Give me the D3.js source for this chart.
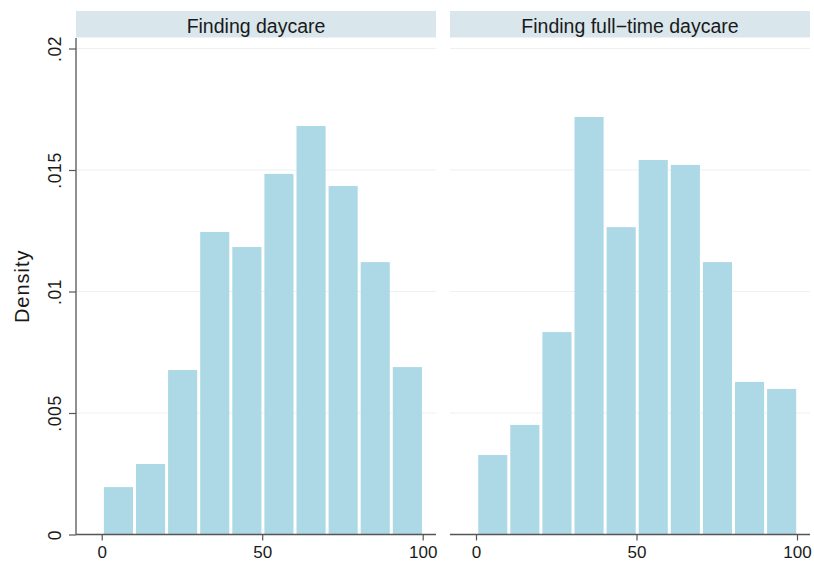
<!DOCTYPE html>
<html>
<head>
<meta charset="utf-8">
<script src="https://cdn.jsdelivr.net/npm/d3@7"></script>
<style>
  body { margin: 0; background: #fff; }
  text { font-family: "Liberation Sans", Arial, sans-serif; fill: #1a1a1a; }
</style>
</head>
<body>
<div id="chart"></div>
<script>
// bins of width 10, from 0 to 100
var binStarts = [0, 10, 20, 30, 40, 50, 60, 70, 80, 90];
var panelTitles = ["Finding daycare", "Finding full\u2212time daycare"];
var densityDaycare = [0.00195, 0.0029, 0.00677, 0.01245, 0.01183, 0.01484, 0.01681, 0.01434, 0.01121, 0.00689];
var densityFullTime = [0.00327, 0.00451, 0.00833, 0.01718, 0.01265, 0.01541, 0.01521, 0.01121, 0.00628, 0.00599];
var yTicks = [0, 0.005, 0.01, 0.015, 0.02];
var yTickLabels = ["0", ".005", ".01", ".015", ".02"];
var xTicks = [0, 50, 100];

var width = 814, height = 566;
var svg = d3.select("#chart").append("svg")
    .attr("width", width)
    .attr("height", height);

var plotTop = 38, plotBottom = 534.5;
var y = d3.scaleLinear().domain([0, 0.02]).range([plotBottom, 48.5]);

var panels = [
    { title: panelTitles[0], values: densityDaycare, left: 76, right: 436, x0: 101.7, x1: 422.7, yaxis: true },
    { title: panelTitles[1], values: densityFullTime, left: 450, right: 810, x0: 476, x1: 797, yaxis: false }
];

panels.forEach(function(p) {
    var x = d3.scaleLinear().domain([0, 100]).range([p.x0, p.x1]);
    var g = svg.append("g");

    // header strip
    g.append("rect")
        .attr("x", p.left).attr("y", 11)
        .attr("width", p.right - p.left).attr("height", 26.5)
        .attr("fill", "#d9e6eb");
    g.append("text")
        .attr("x", (p.left + p.right) / 2).attr("y", 32.5)
        .attr("text-anchor", "middle")
        .style("font-size", "19.5px")
        .text(p.title);

    // grid lines
    g.selectAll("line.grid")
        .data(yTicks.slice(1))
        .enter().append("line")
        .attr("class", "grid")
        .attr("x1", p.left).attr("x2", p.right)
        .attr("y1", function(d){ return y(d); })
        .attr("y2", function(d){ return y(d); })
        .attr("stroke", "#eaf2f4")
        .attr("stroke-width", 1.2);

    // bars
    g.selectAll("rect.bar")
        .data(p.values)
        .enter().append("rect")
        .attr("class", "bar")
        .attr("x", function(d, i){ return x(binStarts[i]) + 2.2; })
        .attr("width", function(d, i){ return x(binStarts[i] + 10) - x(binStarts[i]) - 3; })
        .attr("y", function(d){ return y(d); })
        .attr("height", function(d){ return plotBottom - y(d); })
        .attr("fill", "#add8e6");

    // x axis
    var xAxis = d3.axisBottom(x)
        .tickValues(xTicks)
        .tickSize(6)
        .tickSizeOuter(0);
    var xa = g.append("g")
        .attr("transform", "translate(0," + plotBottom + ")")
        .call(xAxis);
    xa.select(".domain").remove();
    xa.append("line")
        .attr("x1", p.left).attr("x2", p.right)
        .attr("stroke", "#555").attr("stroke-width", 1.3);
    xa.selectAll(".tick line").attr("stroke", "#555").attr("stroke-width", 1.2);
    xa.selectAll(".tick text")
        .attr("y", 11)
        .attr("dy", "0.71em")
        .style("font-size", "17px")
        .style("font-family", "Liberation Sans, Arial, sans-serif")
        .attr("fill", "#1a1a1a");

    if (p.yaxis) {
        var yAxis = d3.axisLeft(y)
            .tickValues(yTicks)
            .tickFormat(function(d, i){ return yTickLabels[i]; })
            .tickSize(7)
            .tickSizeOuter(0);
        var ya = g.append("g")
            .attr("transform", "translate(" + p.left + ",0)")
            .call(yAxis);
        ya.select(".domain").remove();
        ya.append("line")
            .attr("y1", plotTop).attr("y2", plotBottom)
            .attr("stroke", "#555").attr("stroke-width", 1.3);
        ya.selectAll(".tick line").attr("stroke", "#555").attr("stroke-width", 1.2);
        ya.selectAll(".tick text")
            .attr("x", null).attr("dy", null)
            .attr("text-anchor", "middle")
            .attr("transform", "translate(-15,0) rotate(-90)")
            .style("font-size", "17.5px")
            .style("letter-spacing", "0.6px")
            .style("font-family", "Liberation Sans, Arial, sans-serif")
            .attr("fill", "#1a1a1a");
    }
});

svg.append("text")
    .attr("transform", "translate(29," + ((plotTop + plotBottom) / 2) + ") rotate(-90)")
    .attr("text-anchor", "middle")
    .style("font-size", "20px")
    .style("letter-spacing", "1px")
    .text("Density");
</script>
</body>
</html>
